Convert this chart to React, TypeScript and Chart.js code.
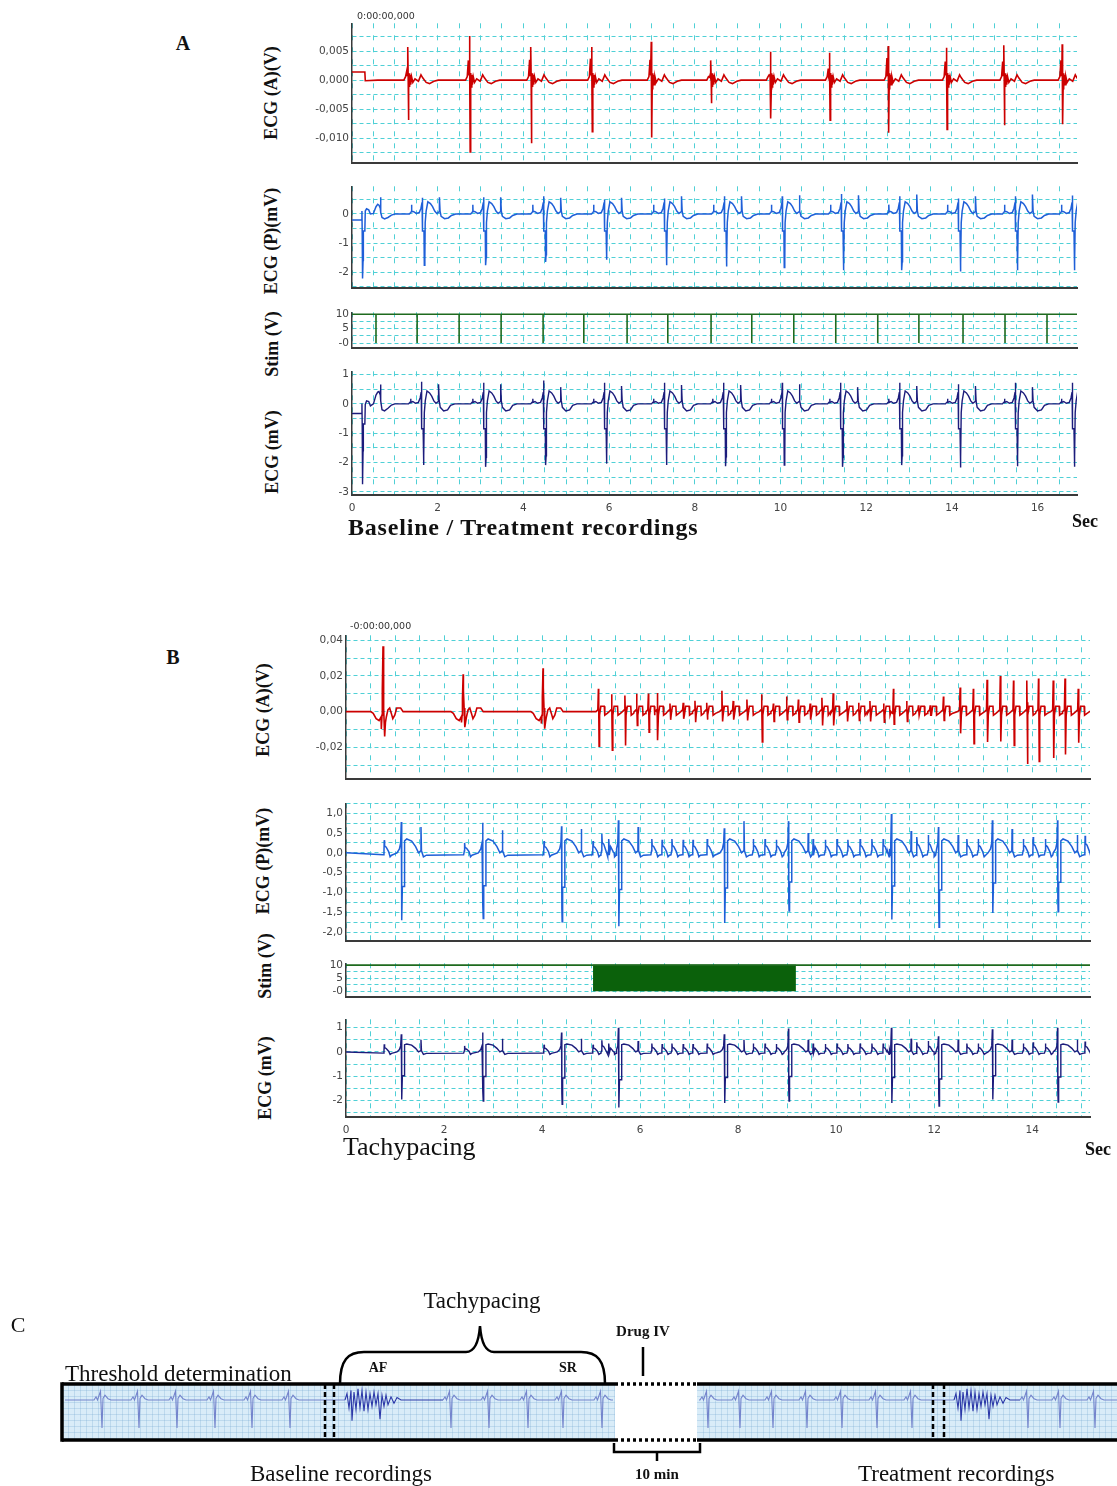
import React, { useEffect, useRef } from 'react';
import { Chart, registerables } from 'chart.js';

Chart.register(...registerables);
Chart.defaults.font.family = 'DejaVu Sans';

type Pt = { x: number; y: number | null };
type Shape = number[][];

/* ======================= PANEL A : baseline / treatment ======================= */
const aXMax = 16.92;
const aXTickValues = [0, 2, 4, 6, 8, 10, 12, 14, 16];
const aXTickLabels = ['0', '2', '4', '6', '8', '10', '12', '14', '16'];

// A1 – ECG (A) (V)
const a1BeatTimes = [1.31, 2.75, 4.18, 5.6, 6.99, 8.38, 9.77, 11.15, 12.52, 13.88, 15.22, 16.58];
const a1BeatPre = [0.0015, 0.0034, 0.0035, 0.0037, 0.0035, 0.0005, 0.0009, 0.002, 0.0038, 0.0032, 0.0032, 0.0034];
const a1BeatUp = [0.0057, 0.0076, 0.0057, 0.0057, 0.0066, 0.0034, 0.0049, 0.0047, 0.0059, 0.0056, 0.006, 0.0062];
const a1BeatDown = [-0.0069, -0.0124, -0.0109, -0.0089, -0.0099, -0.004, -0.0066, -0.0069, -0.0091, -0.0085, -0.0078, -0.0076];
const a1Onset: Shape = [[0, 0.0014], [0.3, 0.0014], [0.31, -0.0001], [0.6, 0]];
const a1YTickValues = [0.005, 0, -0.005, -0.01];
const a1YTickLabels = ['0,005', '0,000', '-0,005', '-0,010'];

// A2 – ECG (P) (mV)
const a2BeatTimes = [1.7, 3.13, 4.53, 5.95, 7.35, 8.75, 10.1, 11.48, 12.84, 14.21, 15.54, 16.87];
const a2BeatR = [0.555, 0.576, 0.61, 0.5, 0.53, 0.61, 0.61, 0.69, 0.61, 0.53, 0.61, 0.63];
const a2BeatS = [-1.76, -1.76, -1.65, -1.57, -1.76, -1.8, -1.84, -1.93, -1.93, -1.97, -1.93, -1.93];
const a2BeatT2 = [0.576, 0.576, 0.555, 0.555, 0.61, 0.61, 0.645, 0.645, 0.67, 0.61, 0.67, 0.67];
const a2Onset: Shape = [
  [0, -0.21], [0.225, -0.21], [0.232, 0.1], [0.238, -0.58], [0.246, -2.21], [0.258, -1.6], [0.265, -0.58],
  [0.3, -0.58], [0.31, 0.1], [0.34, 0.18], [0.39, 0.14], [0.43, 0.0], [0.5, 0.02], [0.56, 0.25], [0.6, 0.33],
  [0.63, 0.3], [0.66, 0.2], [0.665, 0.57], [0.675, 0.05], [0.7, -0.12], [0.76, -0.17], [0.84, -0.12], [0.92, -0.04], [1.0, 0],
];
const a2YTickValues = [0, -1, -2];
const a2YTickLabels = ['0', '-1', '-2'];

// A3 – Stim (V)
const a3StimTimes = [0.56, 1.52, 2.5, 3.48, 4.46, 5.41, 6.42, 7.37, 8.38, 9.33, 10.31, 11.29, 12.27, 13.23, 14.26, 15.24, 16.22];
const stimYTickValues = [10, 5, 0];
const stimYTickLabels = ['10', '5', '-0'];

// A4 – ECG (mV)
const a4BeatTimes = [1.68, 3.13, 4.53, 5.95, 7.35, 8.73, 10.1, 11.46, 12.84, 14.21, 15.54, 16.87];
const a4BeatR = [0.75, 0.72, 0.8, 0.72, 0.72, 0.72, 0.72, 0.72, 0.72, 0.665, 0.72, 0.72];
const a4BeatS = [-2.09, -2.15, -2.09, -2.04, -2.09, -2.13, -2.09, -2.15, -2.09, -2.17, -2.13, -2.15];
const a4BeatT2 = [0.665, 0.665, 0.57, 0.61, 0.64, 0.64, 0.665, 0.57, 0.61, 0.61, 0.57, 0.61];
const a4Onset: Shape = [
  [0, -0.33], [0.225, -0.33], [0.232, 0.01], [0.238, -0.69], [0.246, -2.74], [0.258, -1.6], [0.265, -0.69],
  [0.3, -0.69], [0.31, -0.02], [0.34, 0.1], [0.39, 0.08], [0.43, -0.07], [0.5, 0.0], [0.56, 0.3], [0.6, 0.4],
  [0.63, 0.42], [0.66, 0.3], [0.665, 0.66], [0.675, 0.1], [0.7, -0.2], [0.76, -0.24], [0.84, -0.15], [0.92, -0.04], [1.0, 0],
];
const a4YTickValues = [1, 0, -1, -2, -3];
const a4YTickLabels = ['1', '0', '-1', '-2', '-3'];

/* ======================= PANEL B : tachypacing ======================= */
const bXMax = 15.18;
const bXTickValues = [0, 2, 4, 6, 8, 10, 12, 14];
const bXTickLabels = ['0', '2', '4', '6', '8', '10', '12', '14'];

// B1 – ECG (A) (V)
const b1SinusTimes = [0.755, 2.39, 4.02];
const b1SinusUp = [0.0367, 0.021, 0.0243];
const b1SinusDown = [-0.0139, -0.0087, -0.0096];
const b1PaceTimes = [5.15, 5.42, 5.69, 5.93, 6.17, 6.35, 6.61, 6.88, 7.12, 7.36, 7.67, 7.9, 8.18, 8.48, 8.72, 8.99, 9.23, 9.47, 9.71, 9.94,
  10.22, 10.46, 10.69, 10.97, 11.17, 11.44, 11.68, 11.92, 12.19, 12.53, 12.8, 13.08, 13.35, 13.62, 13.89, 14.13, 14.43, 14.67, 14.94];
const b1PaceUp = [0.0128, 0.0098, 0.009, 0.01, 0.0102, 0.0105, 0.0045, 0.005, 0.0061, 0.005, 0.0117, 0.006, 0.0068, 0.0098, 0.0045, 0.0085,
  0.0068, 0.0045, 0.0078, 0.0103, 0.006, 0.005, 0.006, 0.0045, 0.0128, 0.006, 0.0035, 0.0035, 0.0085, 0.0135, 0.0128, 0.0178, 0.02, 0.0175,
  0.0175, 0.0185, 0.0175, 0.0185, 0.0128];
const b1PaceDown = [-0.0194, -0.0217, -0.019, -0.0078, -0.0115, -0.016, -0.0046, -0.004, -0.006, -0.0045, -0.0055, -0.0045, -0.005, -0.017,
  -0.0055, -0.0045, -0.006, -0.0045, -0.0078, -0.0078, -0.0055, -0.005, -0.0055, -0.006, -0.007, -0.0055, -0.002, -0.002, -0.005, -0.0122,
  -0.018, -0.017, -0.0167, -0.019, -0.0294, -0.028, -0.026, -0.024, -0.0175];
const b1YTickValues = [0.04, 0.02, 0, -0.02];
const b1YTickLabels = ['0,04', '0,02', '0,00', '-0,02'];

// B2 – ECG (P) (mV)
const b2BeatTimes = [1.14, 2.8, 4.41, 5.57, 7.73, 9.04, 11.14, 12.1, 13.2, 14.53];
const b2BeatR = [0.78, 0.76, 0.67, 0.82, 0.62, 0.8, 0.98, 0.65, 0.82, 0.82];
const b2BeatS = [-1.7, -1.66, -1.74, -1.85, -1.77, -1.47, -1.68, -1.88, -1.52, -1.49];
const b2BeatT2 = [0.65, 0.57, 0.6, 0.65, 0.8, 0.5, 0.55, 0.45, 0.6, 0.45];
const bAtrialTimes = [0.78, 2.42, 4.04, 5.04, 5.22, 5.36, 6.24, 6.45, 6.65, 6.88, 7.08, 7.37, 8.31, 8.55, 8.78, 9.53, 9.78, 10.02, 10.24,
  10.49, 10.73, 10.96, 11.65, 11.88, 12.67, 12.9, 13.82, 14.02, 14.27, 15.08];
const bAtrialAmp = [0.32, 0.25, 0.3, 0.3, 0.48, 0.35, 0.35, 0.33, 0.35, 0.33, 0.33, 0.35, 0.35, 0.35, 0.33, 0.35, 0.33, 0.35, 0.33, 0.35,
  0.35, 0.35, 0.4, 0.45, 0.35, 0.35, 0.35, 0.4, 0.35, 0.43];
const b2YTickValues = [1, 0.5, 0, -0.5, -1, -1.5, -2];
const b2YTickLabels = ['1,0', '0,5', '0,0', '-0,5', '-1,0', '-1,5', '-2,0'];

// B3 – Stim (V): burst pacing train
const bStimTrain = [5.04, 9.18];

// B4 – ECG (mV)
const b4BeatTimes = [1.14, 2.8, 4.41, 5.57, 7.73, 9.04, 11.14, 12.1, 13.2, 14.53];
const b4BeatR = [0.73, 0.8, 0.8, 1.0, 0.73, 0.97, 1.0, 0.65, 0.94, 1.0];
const b4BeatS = [-1.97, -2.03, -2.16, -2.3, -2.11, -2.03, -2.11, -2.24, -1.97, -2.07];
const b4BeatT2 = [0.5, 0.55, 0.55, 0.45, 0.5, 0.5, 0.55, 0.5, 0.5, 0.5];
const b4YTickValues = [1, 0, -1, -2];
const b4YTickLabels = ['1', '0', '-1', '-2'];

/* ======================= PANEL C : protocol schematic ======================= */
const cStripSegments = [[0, 553], [635, 1055]];
const cGap = [553, 635];
const cSeparators = [263, 272, 871, 882];
const cThresholdBeats = [40, 77, 115, 153, 190, 228];
const cBaselineSrBeats = [389, 427, 466, 501, 540];
const cTreatmentBeats = [646, 678, 711, 745, 780, 815, 850];
const cTreatmentSrBeats = [966, 998, 1033];
const cAfStarts = [283, 892];
const cAfRanges = [[281, 342], [890, 951]];
const cBrace = { from: 278, tip: 418, to: 543 };
const cDrugAt = 581;
const cTenMin = [552, 638];

/* ======================= complex shapes ======================= */
const a1Complex = (pre: number, up: number, down: number): Shape => [
  [-0.1, 0], [-0.06, 0.0006], [-0.035, pre], [-0.025, 0.0008], [-0.012, pre * 0.6], [-0.006, up], [0, 0.0012], [0.008, down],
  [0.016, -0.0015], [0.024, 0.0012], [0.034, -0.0012], [0.046, 0.0009], [0.06, -0.0008], [0.08, 0.0006], [0.11, -0.0004],
  [0.16, 0.0002], [0.24, -0.0002], [0.3, 0.0009], [0.34, 0.0004], [0.42, -0.0004], [0.5, -0.0006], [0.6, -0.0002], [0.7, 0],
];
const aVentComplex = (p: number, r: number, step: number, s: number, hump: number, t2: number, dip: number): Shape => [
  [-0.36, 0], [-0.33, 0.05], [-0.315, p * 0.25], [-0.31, p], [-0.305, p * 0.3], [-0.26, 0.08], [-0.2, 0.02], [-0.13, 0.05],
  [-0.09, 0.2], [-0.065, 0.4], [-0.058, r], [-0.052, step], [-0.02, step], [-0.012, s], [0, s * 0.85], [0.008, -0.3],
  [0.03, 0.1], [0.07, hump], [0.13, hump * 0.85], [0.18, hump * 0.6], [0.23, 0.1], [0.28, 0.02], [0.335, 0.08],
  [0.34, t2], [0.355, 0.1], [0.38, dip * 0.5], [0.46, dip], [0.55, dip * 0.85], [0.62, -0.05], [0.72, 0],
];
const bVentComplex = (r: number, s: number, t2: number, hump: number): Shape => [
  [-0.1, 0], [-0.05, 0.1], [-0.025, 0.25], [-0.012, r], [-0.006, s * 0.8], [0, s], [0.01, s * 0.5], [0.045, s * 0.5],
  [0.055, 0.3], [0.1, hump], [0.2, hump * 0.85], [0.28, hump * 0.45], [0.34, 0], [0.385, 0.05], [0.39, t2], [0.4, 0.05],
  [0.44, -0.1], [0.5, -0.06],
];
const bAtrialBump = (amp: number): Shape => [
  [-0.02, -0.05], [-0.005, 0.05], [0, amp], [0.008, amp * 0.55], [0.04, amp * 0.45], [0.09, 0.03], [0.12, -0.1], [0.15, -0.06],
];
const b1SinusComplex = (up: number, down: number): Shape => [
  [-0.25, 0], [-0.2, -0.001], [-0.14, -0.004], [-0.08, -0.005], [-0.04, -0.003], [-0.034, down * 0.7], [-0.02, -0.002],
  [-0.014, up * 0.35], [0, up], [0.006, up * 0.55], [0.02, 0.002], [0.034, down], [0.05, -0.006], [0.068, -0.003],
  [0.1, 0.001], [0.136, 0.002], [0.17, -0.001], [0.2, -0.004], [0.24, -0.002], [0.28, 0.002], [0.36, 0.002], [0.41, 0],
];
const b1PaceSpike = (up: number, down: number): Shape => [
  [-0.05, 0], [-0.012, 0.001], [0, up], [0.006, up * 0.3], [0.014, down], [0.024, -0.002], [0.05, 0.003],
  [0.12, 0.003], [0.13, -0.002], [0.18, -0.001],
];
const cMiniBeat: Shape = [[-8, 0], [-6, 0.2], [-4.5, 0], [-1.5, 0.55], [0, -1.75], [1, 0.1], [3, 0.3], [6, 0.08], [9, 0]];
const cAfShape: Shape = [
  [0, 0], [2, 0.4], [4, -0.5], [6, 0.6], [7, -1.3], [9, 0.5], [11, -0.6], [13, 0.7], [15, -0.5], [17, 0.6], [19, -0.7],
  [21, 0.5], [23, -0.6], [25, 0.4], [27, -0.4], [29, 0.5], [31, -0.3], [33, 0.4], [35, -1.2], [37, 0.3], [39, -0.4],
  [41, 0.3], [43, -0.3], [46, 0.2], [49, -0.2], [52, 0.15], [56, 0],
];

/* ======================= series assembly ======================= */
const place = (t0: number, shape: Shape): Pt[] => shape.map(([dt, v]) => ({ x: t0 + dt, y: v }));
const pts = (shape: Shape): Pt[] => shape.map(([x, y]) => ({ x, y }));
const sorted = (list: Pt[]) => list.sort((a, b) => a.x - b.x);

const a1Data = sorted([
  ...pts(a1Onset),
  ...a1BeatTimes.flatMap((t, i) => place(t, a1Complex(a1BeatPre[i], a1BeatUp[i], a1BeatDown[i]))),
]);
const a2Data = sorted([
  ...pts(a2Onset),
  ...a2BeatTimes.flatMap((t, i) => place(t, aVentComplex(0.32, a2BeatR[i], -0.58, a2BeatS[i], 0.42, a2BeatT2[i], -0.16))),
]);
const a3Data: Pt[] = [
  { x: 0, y: 10 },
  ...a3StimTimes.flatMap((t) => [{ x: t, y: 10 }, { x: t, y: 0 }, { x: t, y: 10 }]),
  { x: aXMax, y: 10 },
];
const a4Data = sorted([
  ...pts(a4Onset),
  ...a4BeatTimes.flatMap((t, i) => place(t, aVentComplex(0.17, a4BeatR[i], -0.85, a4BeatS[i], 0.44, a4BeatT2[i], -0.24))),
]);
const b1Data = sorted([
  { x: 0, y: 0 },
  ...b1SinusTimes.flatMap((t, i) => place(t, b1SinusComplex(b1SinusUp[i], b1SinusDown[i]))),
  ...b1PaceTimes.flatMap((t, i) => place(t, b1PaceSpike(b1PaceUp[i], b1PaceDown[i]))),
  { x: bXMax + 0.1, y: 0.002 },
]);
const b2Data = sorted([
  { x: 0, y: 0 },
  ...b2BeatTimes.flatMap((t, i) => place(t, bVentComplex(b2BeatR[i], b2BeatS[i], b2BeatT2[i], 0.35))),
  ...bAtrialTimes.flatMap((t, i) => place(t, bAtrialBump(bAtrialAmp[i]))),
  { x: bXMax + 0.1, y: -0.1 },
]);
const b3Line: Pt[] = [{ x: 0, y: 10 }, { x: bXMax, y: 10 }];
const b3Train: Pt[] = [{ x: bStimTrain[0], y: 10 }, { x: bStimTrain[1], y: 10 }];
const b4Data = sorted([
  { x: 0, y: 0 },
  ...b4BeatTimes.flatMap((t, i) => place(t, bVentComplex(b4BeatR[i], b4BeatS[i], b4BeatT2[i], 0.33))),
  ...bAtrialTimes.flatMap((t, i) => place(t, bAtrialBump(bAtrialAmp[i]))),
  { x: bXMax + 0.1, y: -0.1 },
]);
const cTraceData = sorted([
  { x: 3, y: 0 },
  ...cThresholdBeats.flatMap((t) => place(t, cMiniBeat)),
  ...place(cAfStarts[0], cAfShape),
  ...cBaselineSrBeats.flatMap((t) => place(t, cMiniBeat)),
  { x: 551, y: 0 },
  { x: 594, y: null },
  { x: 637, y: 0 },
  ...cTreatmentBeats.flatMap((t) => place(t, cMiniBeat)),
  ...place(cAfStarts[1], cAfShape),
  ...cTreatmentSrBeats.flatMap((t) => place(t, cMiniBeat)),
  { x: 1056, y: 0 },
]);

/* ======================= styling ======================= */
const GRID = '#4fd0d6';
const AXIS = '#3a3a3a';
const TICK_COLOR = '#444';
const TICK_FONT = { family: 'DejaVu Sans', size: 10.5 };
const RED = '#cc0000';
const BLUE = '#1f5fd8';
const NAVY = '#1c1c7c';
const GREEN = '#1e6a1e';
const Y_AXIS_W = 52;
const PAD_T = 8;
const PAD_R = 4;
const PAD_B = 8;

const labelFor = (values: number[], labels: string[]) => (v: number) => {
  const i = values.findIndex((t) => Math.abs(t - v) < 1e-9);
  return i >= 0 ? labels[i] : '';
};
const trace = (data: Pt[], color: string, width = 1.5) => ({
  data, borderColor: color, borderWidth: width, pointRadius: 0, fill: false, tension: 0,
});

interface PlotSpec {
  left: number; top: number; right: number; bottom: number;
  xMax: number; yMin: number; yMax: number; yStep: number;
  yTickValues: number[]; yTickLabels: string[];
  xTickValues?: number[]; xTickLabels?: string[];
  datasets: any[];
}
interface CanvasSpec { left: number; top: number; width: number; height: number; config: any; }

function buildPlot(p: PlotSpec): CanvasSpec {
  const showX = !!p.xTickLabels;
  const xh = showX ? 24 : 2;
  const left = p.left - Y_AXIS_W;
  const top = p.top - PAD_T;
  const width = p.right - left + PAD_R;
  const height = p.bottom - p.top + PAD_T + xh + PAD_B;
  const config = {
    type: 'line',
    data: { datasets: p.datasets },
    options: {
      animation: false,
      responsive: false,
      events: [],
      layout: { padding: { top: PAD_T, right: PAD_R, bottom: PAD_B, left: 0 } },
      plugins: { legend: { display: false }, tooltip: { enabled: false } },
      scales: {
        x: {
          type: 'linear', position: 'bottom', min: 0, max: p.xMax,
          afterFit: (s: any) => { s.height = xh; },
          grid: { color: GRID, lineWidth: 1, drawTicks: false },
          border: { display: true, color: AXIS, width: 2, dash: [5, 7] },
          ticks: {
            display: showX, stepSize: 0.5, autoSkip: false, includeBounds: false, maxRotation: 0, minRotation: 0,
            padding: 7, color: TICK_COLOR, font: TICK_FONT,
            callback: showX ? labelFor(p.xTickValues as number[], p.xTickLabels as string[]) : () => '',
          },
        },
        y: {
          type: 'linear', position: 'left', min: p.yMin, max: p.yMax,
          afterFit: (s: any) => { s.width = Y_AXIS_W; },
          grid: { color: GRID, lineWidth: 1, drawTicks: false },
          border: { display: true, color: AXIS, width: 1.5, dash: [4, 3] },
          ticks: {
            stepSize: p.yStep, autoSkip: false, includeBounds: false, padding: 3, color: TICK_COLOR, font: TICK_FONT,
            callback: labelFor(p.yTickValues, p.yTickLabels),
          },
        },
      },
    },
  };
  return { left, top, width, height, config };
}

const plots: CanvasSpec[] = [
  buildPlot({ left: 352, right: 1077, top: 22, bottom: 163, xMax: aXMax, yMin: -0.0143, yMax: 0.0098, yStep: 0.0025,
    yTickValues: a1YTickValues, yTickLabels: a1YTickLabels, datasets: [trace(a1Data, RED, 1.6)] }),
  buildPlot({ left: 352, right: 1077, top: 185, bottom: 288, xMax: aXMax, yMin: -2.54, yMax: 0.95, yStep: 0.5,
    yTickValues: a2YTickValues, yTickLabels: a2YTickLabels, datasets: [trace(a2Data, BLUE, 1.5)] }),
  buildPlot({ left: 352, right: 1077, top: 311, bottom: 348, xMax: aXMax, yMin: -1.7, yMax: 10.7, yStep: 2.5,
    yTickValues: stimYTickValues, yTickLabels: stimYTickLabels, datasets: [trace(a3Data, GREEN, 1.6)] }),
  buildPlot({ left: 352, right: 1077, top: 370, bottom: 495, xMax: aXMax, yMin: -3.11, yMax: 1.11, yStep: 0.5,
    yTickValues: a4YTickValues, yTickLabels: a4YTickLabels, xTickValues: aXTickValues, xTickLabels: aXTickLabels,
    datasets: [trace(a4Data, NAVY, 1.4)] }),
  buildPlot({ left: 346, right: 1090, top: 634, bottom: 779, xMax: bXMax, yMin: -0.0378, yMax: 0.0428, yStep: 0.01,
    yTickValues: b1YTickValues, yTickLabels: b1YTickLabels, datasets: [trace(b1Data, RED, 1.6)] }),
  buildPlot({ left: 346, right: 1090, top: 802, bottom: 941, xMax: bXMax, yMin: -2.225, yMax: 1.25, yStep: 0.25,
    yTickValues: b2YTickValues, yTickLabels: b2YTickLabels, datasets: [trace(b2Data, BLUE, 1.5)] }),
  buildPlot({ left: 346, right: 1090, top: 962, bottom: 997, xMax: bXMax, yMin: -2.2, yMax: 10.7, yStep: 2.5,
    yTickValues: stimYTickValues, yTickLabels: stimYTickLabels,
    datasets: [
      trace(b3Line, GREEN, 1.6),
      { data: b3Train, borderColor: '#0b610b', backgroundColor: '#0b610b', borderWidth: 1, pointRadius: 0, fill: 'origin', tension: 0 },
    ] }),
  buildPlot({ left: 346, right: 1090, top: 1018, bottom: 1117, xMax: bXMax, yMin: -2.69, yMax: 1.35, yStep: 0.5,
    yTickValues: b4YTickValues, yTickLabels: b4YTickLabels, xTickValues: bXTickValues, xTickLabels: bXTickLabels,
    datasets: [trace(b4Data, NAVY, 1.4)] }),
];

/* ======================= panel C chart ======================= */
const inAf = (x: number) => cAfRanges.some(([s, e]) => x >= s && x <= e);
const cPlugin = {
  id: 'protocolStrip',
  beforeDatasetsDraw(chart: any) {
    const { ctx, chartArea: a, scales } = chart;
    const px = (v: number) => scales.x.getPixelForValue(v);
    ctx.save();
    for (const [s, e] of cStripSegments) {
      const x0 = px(s);
      const x1 = px(e);
      ctx.fillStyle = '#d9ecf8';
      ctx.fillRect(x0, a.top, x1 - x0, a.bottom - a.top);
      ctx.strokeStyle = 'rgba(120,170,210,0.28)';
      ctx.lineWidth = 1;
      ctx.beginPath();
      for (let gx = x0 + 6; gx < x1; gx += 6) { ctx.moveTo(gx + 0.5, a.top); ctx.lineTo(gx + 0.5, a.bottom); }
      for (let gy = a.top + 6; gy < a.bottom; gy += 6) { ctx.moveTo(x0, gy + 0.5); ctx.lineTo(x1, gy + 0.5); }
      ctx.stroke();
    }
    ctx.restore();
  },
  afterDatasetsDraw(chart: any) {
    const { ctx, chartArea: a, scales } = chart;
    const px = (v: number) => scales.x.getPixelForValue(v);
    const line = (x0: number, y0: number, x1: number, y1: number) => {
      ctx.beginPath(); ctx.moveTo(x0, y0); ctx.lineTo(x1, y1); ctx.stroke();
    };
    ctx.save();
    ctx.strokeStyle = '#000';
    ctx.lineWidth = 3.5;
    for (const [s, e] of cStripSegments) {
      line(px(s), a.top, px(e), a.top);
      line(px(s), a.bottom, px(e), a.bottom);
    }
    line(px(0), a.top - 1.75, px(0), a.bottom + 1.75);
    ctx.setLineDash([3, 3]);
    line(px(cGap[0]), a.top, px(cGap[1]), a.top);
    line(px(cGap[0]), a.bottom, px(cGap[1]), a.bottom);
    ctx.setLineDash([5, 3]);
    ctx.lineWidth = 2.5;
    for (const s of cSeparators) line(px(s), a.top, px(s), a.bottom);
    ctx.setLineDash([]);
    // brace over the tachypacing period
    const xl = px(cBrace.from);
    const xr = px(cBrace.to);
    const xt = px(cBrace.tip);
    const yBar = a.top - 32;
    const yTip = a.top - 58;
    ctx.lineWidth = 2.5;
    ctx.beginPath();
    ctx.moveTo(xl, a.top);
    ctx.bezierCurveTo(xl, yBar + 8, xl + 8, yBar, xl + 24, yBar);
    ctx.lineTo(xt - 14, yBar);
    ctx.quadraticCurveTo(xt - 2, yBar, xt, yTip);
    ctx.quadraticCurveTo(xt + 2, yBar, xt + 14, yBar);
    ctx.lineTo(xr - 24, yBar);
    ctx.bezierCurveTo(xr - 8, yBar, xr, yBar + 8, xr, a.top);
    ctx.stroke();
    // drug IV marker
    line(px(cDrugAt), a.top - 37, px(cDrugAt), a.top - 8);
    // 10 min bracket
    const b0 = px(cTenMin[0]);
    const b1 = px(cTenMin[1]);
    const bm = (b0 + b1) / 2;
    const by = a.bottom + 12;
    ctx.beginPath();
    ctx.moveTo(b0, a.bottom + 3); ctx.lineTo(b0, by); ctx.lineTo(b1, by); ctx.lineTo(b1, a.bottom + 3);
    ctx.moveTo(bm, by); ctx.lineTo(bm, by + 9);
    ctx.stroke();
    ctx.restore();
  },
};

const cChart: CanvasSpec = {
  left: 0, top: 1290, width: 1117, height: 180,
  config: {
    type: 'line',
    data: {
      datasets: [{
        data: cTraceData, borderColor: '#7484cc', borderWidth: 1.1, pointRadius: 0, fill: false, tension: 0, spanGaps: false,
        segment: { borderColor: (c: any) => (inAf(c.p0.parsed.x) ? '#2c38a8' : '#7484cc') },
      }],
    },
    options: {
      animation: false, responsive: false, events: [],
      layout: { padding: { left: 62, top: 94, right: 0, bottom: 30 } },
      plugins: { legend: { display: false }, tooltip: { enabled: false } },
      scales: {
        x: { type: 'linear', display: false, min: 0, max: 1055 },
        y: { type: 'linear', display: false, min: -2.5, max: 1 },
      },
    },
    plugins: [cPlugin],
  },
};

/* ======================= components ======================= */
function ChartCanvas({ spec }: { spec: CanvasSpec }) {
  const ref = useRef<HTMLCanvasElement>(null);
  useEffect(() => {
    if (!ref.current) return;
    const chart = new Chart(ref.current, spec.config);
    return () => chart.destroy();
  }, [spec]);
  return (
    <canvas
      ref={ref}
      width={spec.width}
      height={spec.height}
      style={{ position: 'absolute', left: spec.left, top: spec.top, width: spec.width, height: spec.height }}
    />
  );
}

const SERIF = '"Liberation Serif", "Times New Roman", serif';

function Label({ x, y, text, size, bold = false, anchor = 'center', rotate = false, family = SERIF, spacing = 0, color = '#111' }: {
  x: number; y: number; text: string; size: number; bold?: boolean; anchor?: 'center' | 'left'; rotate?: boolean;
  family?: string; spacing?: number; color?: string;
}) {
  const transform = rotate
    ? 'translate(-50%, -50%) rotate(-90deg)'
    : anchor === 'center' ? 'translate(-50%, -50%)' : 'translate(0, -50%)';
  return (
    <div
      style={{
        position: 'absolute', left: x, top: y, transform, whiteSpace: 'nowrap', lineHeight: 1,
        fontFamily: family, fontSize: size, fontWeight: bold ? 700 : 400, letterSpacing: spacing, color,
      }}
    >
      {text}
    </div>
  );
}

const SANS = '"DejaVu Sans", sans-serif';

export default function App() {
  return (
    <div style={{ position: 'absolute', left: 0, top: 0, width: 1117, height: 1486, background: '#fff', overflow: 'hidden' }}>
      {plots.map((p, i) => <ChartCanvas key={i} spec={p} />)}
      <ChartCanvas spec={cChart} />

      {/* Panel A */}
      <Label x={183} y={43} text="A" size={20} bold />
      <Label x={357} y={16} text="0:00:00,000" size={9.5} anchor="left" family={SANS} color="#333" />
      <Label x={271} y={93} text="ECG (A)(V)" size={18} bold rotate />
      <Label x={271} y={241} text="ECG (P)(mV)" size={18} bold rotate />
      <Label x={272} y={344} text="Stim (V)" size={18} bold rotate />
      <Label x={272} y={452} text="ECG (mV)" size={18} bold rotate />
      <Label x={348} y={527} text="Baseline / Treatment recordings" size={24} bold anchor="left" spacing={0.8} />
      <Label x={1085} y={521} text="Sec" size={18} bold />

      {/* Panel B */}
      <Label x={173} y={657} text="B" size={20} bold />
      <Label x={350} y={626} text="-0:00:00,000" size={9.5} anchor="left" family={SANS} color="#333" />
      <Label x={263} y={710} text="ECG (A)(V)" size={18} bold rotate />
      <Label x={263} y={861} text="ECG (P)(mV)" size={18} bold rotate />
      <Label x={265} y={966} text="Stim (V)" size={18} bold rotate />
      <Label x={265} y={1078} text="ECG (mV)" size={18} bold rotate />
      <Label x={343} y={1147} text="Tachypacing" size={26} anchor="left" />
      <Label x={1098} y={1149} text="Sec" size={18} bold />

      {/* Panel C */}
      <Label x={18} y={1325} text="C" size={22} />
      <Label x={482} y={1300} text="Tachypacing" size={23} />
      <Label x={65} y={1373} text="Threshold determination" size={23} anchor="left" />
      <Label x={378} y={1368} text="AF" size={14} bold />
      <Label x={568} y={1368} text="SR" size={14} bold />
      <Label x={643} y={1331} text="Drug IV" size={15} bold />
      <Label x={657} y={1474} text="10 min" size={15} bold />
      <Label x={250} y={1473} text="Baseline recordings" size={23} anchor="left" />
      <Label x={858} y={1473} text="Treatment recordings" size={23} anchor="left" />
    </div>
  );
}
